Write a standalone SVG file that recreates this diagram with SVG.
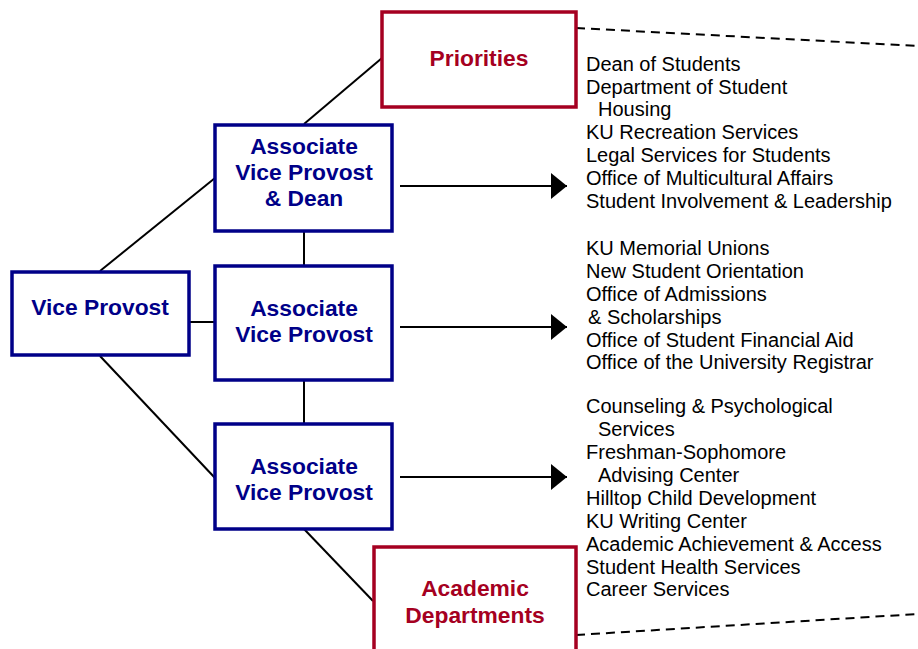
<svg xmlns="http://www.w3.org/2000/svg" width="918" height="649" viewBox="0 0 918 649">
<defs>
<style>
.bx{fill:#fff;stroke-width:3.5}
.blue{stroke:#000088}
.red{stroke:#a50021}
.nt{font-family:"Liberation Sans",Arial,sans-serif;font-weight:bold;font-size:22.8px;text-anchor:middle}
.nb{fill:#000088}
.nr{fill:#a50021}
.ln{stroke:#000;stroke-width:2;fill:none}
.ds{stroke:#000;stroke-width:2;fill:none;stroke-dasharray:9,6}
.lt{font-family:"Liberation Sans",Arial,sans-serif;font-size:20px;fill:#000}
</style>
<marker id="ah" markerWidth="16" markerHeight="26" refX="16" refY="13" orient="auto" markerUnits="userSpaceOnUse">
<path d="M0,0 L16,13 L0,26 Z" fill="#000"/>
</marker>
</defs>
<rect width="918" height="649" fill="#fff"/>
<g id="connectors">
<line class="ln" x1="100" y1="271" x2="215" y2="178"/>
<line class="ln" x1="189" y1="322" x2="215" y2="322"/>
<line class="ln" x1="100" y1="356" x2="215" y2="478"/>
<line class="ln" x1="304" y1="124" x2="382" y2="58"/>
<line class="ln" x1="304" y1="231" x2="304" y2="265"/>
<line class="ln" x1="304" y1="380" x2="304" y2="424"/>
<line class="ln" x1="304" y1="529" x2="373" y2="601"/>
<line class="ln" x1="400" y1="186" x2="567" y2="186" marker-end="url(#ah)"/>
<line class="ln" x1="400" y1="327" x2="567" y2="327" marker-end="url(#ah)"/>
<line class="ln" x1="400" y1="477" x2="567" y2="477" marker-end="url(#ah)"/>
<line class="ds" x1="576" y1="28" x2="918" y2="46"/>
<line class="ds" x1="576" y1="635" x2="918" y2="614"/>
</g>
<g id="vice-provost">
<rect class="bx blue" x="12" y="272" width="177" height="83"/>
<text class="nt nb" x="100" y="315">Vice Provost</text>
</g>
<g id="avp-dean">
<rect class="bx blue" x="215" y="125" width="177" height="106"/>
<text class="nt nb" x="304" y="154">Associate</text>
<text class="nt nb" x="304" y="180">Vice Provost</text>
<text class="nt nb" x="304" y="206">&amp; Dean</text>
</g>
<g id="avp-2">
<rect class="bx blue" x="215" y="266" width="177" height="114"/>
<text class="nt nb" x="304" y="316">Associate</text>
<text class="nt nb" x="304" y="342">Vice Provost</text>
</g>
<g id="avp-3">
<rect class="bx blue" x="215" y="424" width="177" height="105"/>
<text class="nt nb" x="304" y="474">Associate</text>
<text class="nt nb" x="304" y="500">Vice Provost</text>
</g>
<g id="priorities">
<rect class="bx red" x="382" y="12" width="194" height="95"/>
<text class="nt nr" x="479" y="66">Priorities</text>
</g>
<g id="academic-departments">
<rect class="bx red" x="374" y="547" width="202" height="120"/>
<text class="nt nr" x="475" y="596">Academic</text>
<text class="nt nr" x="475" y="623">Departments</text>
</g>
<g id="list-1">
<text class="lt" x="586" y="71">Dean of Students</text>
<text class="lt" x="586" y="94">Department of Student</text>
<text class="lt" x="598" y="116">Housing</text>
<text class="lt" x="586" y="139">KU Recreation Services</text>
<text class="lt" x="586" y="162">Legal Services for Students</text>
<text class="lt" x="586" y="185">Office of Multicultural Affairs</text>
<text class="lt" x="586" y="208">Student Involvement &amp; Leadership</text>
</g>
<g id="list-2">
<text class="lt" x="586" y="255">KU Memorial Unions</text>
<text class="lt" x="586" y="278">New Student Orientation</text>
<text class="lt" x="586" y="301">Office of Admissions</text>
<text class="lt" x="588" y="324">&amp; Scholarships</text>
<text class="lt" x="586" y="347">Office of Student Financial Aid</text>
<text class="lt" x="586" y="369">Office of the University Registrar</text>
</g>
<g id="list-3">
<text class="lt" x="586" y="413">Counseling &amp; Psychological</text>
<text class="lt" x="598" y="436">Services</text>
<text class="lt" x="586" y="459">Freshman-Sophomore</text>
<text class="lt" x="598" y="482">Advising Center</text>
<text class="lt" x="586" y="505">Hilltop Child Development</text>
<text class="lt" x="586" y="528">KU Writing Center</text>
<text class="lt" x="586" y="551">Academic Achievement &amp; Access</text>
<text class="lt" x="586" y="574">Student Health Services</text>
<text class="lt" x="586" y="596">Career Services</text>
</g>
</svg>
